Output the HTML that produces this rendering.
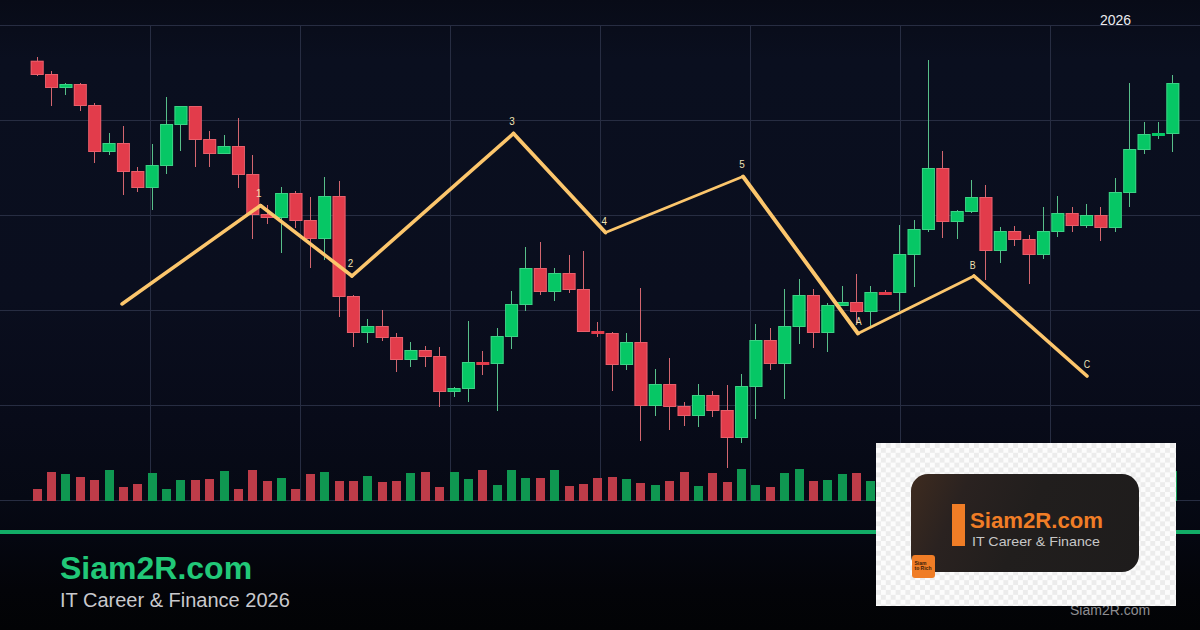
<!DOCTYPE html>
<html lang="en"><head><meta charset="utf-8"><title>Siam2R.com - IT Career &amp; Finance 2026</title>
<style>
html,body{margin:0;padding:0;background:#080b17;}
body{width:1200px;height:630px;overflow:hidden;position:relative;font-family:"Liberation Sans",Arial,sans-serif;}
#bg{position:absolute;left:0;top:0;width:1200px;height:630px;background:linear-gradient(180deg,#080b17 0px,#0a0f1f 60px,#0a0e1e 300px,#080b19 420px,#060914 500px,#050711 534px,#030408 590px,#020305 630px);}
svg{position:absolute;left:0;top:0}
#line{position:absolute;left:0;top:530px;width:1200px;height:4px;background:#12ac66}
#title{position:absolute;left:60px;top:549px;font-size:32px;line-height:38px;font-weight:bold;color:#21c878;white-space:nowrap}
#sub{position:absolute;left:60px;top:588px;font-size:20px;line-height:24px;color:#c9c9cd;white-space:nowrap}
#yr{position:absolute;left:1100px;top:12.3px;font-size:14px;line-height:16px;color:#ececf0}
#wm{position:absolute;left:1070px;top:602px;font-size:14px;line-height:16px;color:#8e8e92;white-space:nowrap}
#logo{position:absolute;left:876px;top:443px;width:300px;height:163px;background-color:#fcfcfc;
 background-image:conic-gradient(#fcfcfc 25%,#ececec 0 50%,#fcfcfc 0 75%,#ececec 0);background-size:9.8px 9.8px;}
#card{position:absolute;left:35.3px;top:31.4px;width:227.3px;height:97.6px;border-radius:17px;background:linear-gradient(115deg,#3e2b1f 0%,#2a2220 22%,#211e1d 50%,#1e1c1c 100%);}
#bar{position:absolute;left:40.5px;top:29.5px;width:13px;height:42px;background:#f07d26}
#lt{position:absolute;left:58.5px;top:34.8px;font-size:22.4px;line-height:24px;font-weight:bold;color:#f07d26;white-space:nowrap;transform:scaleX(0.99);transform-origin:0 0}
#ls{position:absolute;left:61px;top:59.2px;font-size:13px;line-height:16px;color:#c6c6c6;white-space:nowrap;transform:scaleX(1.095);transform-origin:0 0}
#sq{position:absolute;left:36px;top:112px;width:22.5px;height:22.5px;border-radius:3px;background:#f07d26;font-size:5px;line-height:5.4px;color:#3a1c08;font-weight:bold}
#sq span{position:absolute;left:2.5px;top:5.5px;white-space:nowrap}
</style></head><body>
<div id="bg"></div>
<svg width="1200" height="630" viewBox="0 0 1200 630" shape-rendering="crispEdges">
<g><rect x="0" y="25" width="1200" height="1" fill="#272d42"/><rect x="0" y="120" width="1200" height="1" fill="#272d42"/><rect x="0" y="215" width="1200" height="1" fill="#272d42"/><rect x="0" y="310" width="1200" height="1" fill="#272d42"/><rect x="0" y="405" width="1200" height="1" fill="#272d42"/><rect x="0" y="500" width="1200" height="1" fill="#272d42"/><rect x="150" y="25" width="1" height="475" fill="#272d42"/><rect x="300" y="25" width="1" height="475" fill="#272d42"/><rect x="450" y="25" width="1" height="475" fill="#272d42"/><rect x="600" y="25" width="1" height="475" fill="#272d42"/><rect x="750" y="25" width="1" height="475" fill="#272d42"/><rect x="900" y="25" width="1" height="475" fill="#272d42"/><rect x="1050" y="25" width="1" height="475" fill="#272d42"/></g>
<g><rect x="32.69" y="489" width="9" height="12" fill="#be3c49"/><rect x="47.06" y="472" width="9" height="29" fill="#be3c49"/><rect x="61.44" y="474" width="9" height="27" fill="#0f9751"/><rect x="75.81" y="477" width="9" height="24" fill="#be3c49"/><rect x="90.19" y="480" width="9" height="21" fill="#be3c49"/><rect x="104.56" y="470" width="9" height="31" fill="#0f9751"/><rect x="118.94" y="487" width="9" height="14" fill="#be3c49"/><rect x="133.31" y="484" width="9" height="17" fill="#be3c49"/><rect x="147.69" y="473" width="9" height="28" fill="#0f9751"/><rect x="162.06" y="489" width="9" height="12" fill="#0f9751"/><rect x="176.44" y="480" width="9" height="21" fill="#0f9751"/><rect x="190.81" y="480" width="9" height="21" fill="#be3c49"/><rect x="205.19" y="479" width="9" height="22" fill="#be3c49"/><rect x="219.56" y="471" width="9" height="30" fill="#0f9751"/><rect x="233.94" y="489" width="9" height="12" fill="#be3c49"/><rect x="248.31" y="470" width="9" height="31" fill="#be3c49"/><rect x="262.69" y="481" width="9" height="20" fill="#be3c49"/><rect x="277.06" y="478" width="9" height="23" fill="#0f9751"/><rect x="291.44" y="489" width="9" height="12" fill="#be3c49"/><rect x="305.81" y="474" width="9" height="27" fill="#be3c49"/><rect x="320.19" y="472" width="9" height="29" fill="#0f9751"/><rect x="334.56" y="481" width="9" height="20" fill="#be3c49"/><rect x="348.94" y="481" width="9" height="20" fill="#be3c49"/><rect x="363.31" y="476" width="9" height="25" fill="#0f9751"/><rect x="377.69" y="482" width="9" height="19" fill="#be3c49"/><rect x="392.06" y="481" width="9" height="20" fill="#be3c49"/><rect x="406.44" y="473" width="9" height="28" fill="#0f9751"/><rect x="420.81" y="472" width="9" height="29" fill="#be3c49"/><rect x="435.19" y="487" width="9" height="14" fill="#be3c49"/><rect x="449.56" y="472" width="9" height="29" fill="#0f9751"/><rect x="463.94" y="479" width="9" height="22" fill="#0f9751"/><rect x="478.31" y="470" width="9" height="31" fill="#be3c49"/><rect x="492.69" y="485" width="9" height="16" fill="#0f9751"/><rect x="507.06" y="470" width="9" height="31" fill="#0f9751"/><rect x="521.44" y="478" width="9" height="23" fill="#0f9751"/><rect x="535.82" y="478" width="9" height="23" fill="#be3c49"/><rect x="550.19" y="470" width="9" height="31" fill="#0f9751"/><rect x="564.57" y="486" width="9" height="15" fill="#be3c49"/><rect x="578.94" y="484" width="9" height="17" fill="#be3c49"/><rect x="593.32" y="478" width="9" height="23" fill="#be3c49"/><rect x="607.69" y="477" width="9" height="24" fill="#be3c49"/><rect x="622.07" y="479" width="9" height="22" fill="#0f9751"/><rect x="636.44" y="483" width="9" height="18" fill="#be3c49"/><rect x="650.82" y="485" width="9" height="16" fill="#0f9751"/><rect x="665.19" y="481" width="9" height="20" fill="#be3c49"/><rect x="679.57" y="472" width="9" height="29" fill="#be3c49"/><rect x="693.94" y="486" width="9" height="15" fill="#0f9751"/><rect x="708.32" y="473" width="9" height="28" fill="#be3c49"/><rect x="722.69" y="482" width="9" height="19" fill="#be3c49"/><rect x="737.07" y="469" width="9" height="32" fill="#0f9751"/><rect x="751.44" y="485" width="9" height="16" fill="#0f9751"/><rect x="765.82" y="487" width="9" height="14" fill="#be3c49"/><rect x="780.19" y="473" width="9" height="28" fill="#0f9751"/><rect x="794.57" y="469" width="9" height="32" fill="#0f9751"/><rect x="808.94" y="481" width="9" height="20" fill="#be3c49"/><rect x="823.32" y="480" width="9" height="21" fill="#0f9751"/><rect x="837.69" y="474" width="9" height="27" fill="#0f9751"/><rect x="852.07" y="473" width="9" height="28" fill="#be3c49"/><rect x="866.44" y="481" width="9" height="20" fill="#0f9751"/><rect x="880.82" y="474" width="9" height="27" fill="#be3c49"/><rect x="895.19" y="485" width="9" height="16" fill="#0f9751"/><rect x="909.57" y="485" width="9" height="16" fill="#0f9751"/><rect x="923.94" y="474" width="9" height="27" fill="#0f9751"/><rect x="938.32" y="478" width="9" height="23" fill="#be3c49"/><rect x="952.69" y="485" width="9" height="16" fill="#0f9751"/><rect x="967.07" y="481" width="9" height="20" fill="#0f9751"/><rect x="981.44" y="485" width="9" height="16" fill="#be3c49"/><rect x="995.82" y="470" width="9" height="31" fill="#0f9751"/><rect x="1010.19" y="485" width="9" height="16" fill="#be3c49"/><rect x="1024.57" y="470" width="9" height="31" fill="#be3c49"/><rect x="1038.94" y="481" width="9" height="20" fill="#0f9751"/><rect x="1053.32" y="478" width="9" height="23" fill="#0f9751"/><rect x="1067.69" y="485" width="9" height="16" fill="#be3c49"/><rect x="1082.07" y="474" width="9" height="27" fill="#0f9751"/><rect x="1096.44" y="474" width="9" height="27" fill="#be3c49"/><rect x="1110.82" y="481" width="9" height="20" fill="#0f9751"/><rect x="1125.19" y="485" width="9" height="16" fill="#0f9751"/><rect x="1139.57" y="485" width="9" height="16" fill="#0f9751"/><rect x="1153.94" y="481" width="9" height="20" fill="#0f9751"/><rect x="1168.32" y="471" width="9" height="30" fill="#0f9751"/></g>
<g><rect x="37" y="57" width="1" height="18.75" fill="#d3666f"/><rect x="51" y="71.25" width="1" height="34.75" fill="#d3666f"/><rect x="65" y="82.75" width="1" height="12.25" fill="#58bf8a"/><rect x="80" y="82.75" width="1" height="28" fill="#d3666f"/><rect x="94" y="103" width="1" height="60" fill="#d3666f"/><rect x="109" y="133" width="1" height="22" fill="#58bf8a"/><rect x="123" y="126" width="1" height="69" fill="#d3666f"/><rect x="137" y="167" width="1" height="25" fill="#d3666f"/><rect x="152" y="144" width="1" height="66" fill="#58bf8a"/><rect x="166" y="97" width="1" height="77" fill="#58bf8a"/><rect x="180" y="106" width="1" height="45" fill="#58bf8a"/><rect x="195" y="106" width="1" height="61" fill="#d3666f"/><rect x="209" y="131" width="1" height="36" fill="#d3666f"/><rect x="224" y="135" width="1" height="19" fill="#58bf8a"/><rect x="238" y="118" width="1" height="70" fill="#d3666f"/><rect x="252" y="155" width="1" height="84" fill="#d3666f"/><rect x="267" y="205" width="1" height="19" fill="#d3666f"/><rect x="281" y="187" width="1" height="66" fill="#58bf8a"/><rect x="295" y="191" width="1" height="37" fill="#d3666f"/><rect x="310" y="197" width="1" height="71" fill="#d3666f"/><rect x="324" y="177" width="1" height="83" fill="#58bf8a"/><rect x="339" y="181" width="1" height="136" fill="#d3666f"/><rect x="353" y="295" width="1" height="52" fill="#d3666f"/><rect x="367" y="319" width="1" height="24" fill="#58bf8a"/><rect x="382" y="310" width="1" height="31" fill="#d3666f"/><rect x="396" y="333" width="1" height="39" fill="#d3666f"/><rect x="410" y="342" width="1" height="25" fill="#58bf8a"/><rect x="425" y="346" width="1" height="21" fill="#d3666f"/><rect x="439" y="347" width="1" height="60" fill="#d3666f"/><rect x="454" y="387" width="1" height="10" fill="#58bf8a"/><rect x="468" y="321" width="1" height="81" fill="#58bf8a"/><rect x="482" y="351" width="1" height="24" fill="#d3666f"/><rect x="497" y="328" width="1" height="83" fill="#58bf8a"/><rect x="511" y="291" width="1" height="58" fill="#58bf8a"/><rect x="525" y="247" width="1" height="64" fill="#58bf8a"/><rect x="540" y="242" width="1" height="53" fill="#d3666f"/><rect x="554" y="268" width="1" height="33" fill="#58bf8a"/><rect x="569" y="255" width="1" height="38" fill="#d3666f"/><rect x="583" y="251" width="1" height="81" fill="#d3666f"/><rect x="597" y="322" width="1" height="15" fill="#d3666f"/><rect x="612" y="332" width="1" height="59" fill="#d3666f"/><rect x="626" y="333" width="1" height="37" fill="#58bf8a"/><rect x="640" y="288" width="1" height="153" fill="#d3666f"/><rect x="655" y="369" width="1" height="47" fill="#58bf8a"/><rect x="669" y="358" width="1" height="72" fill="#d3666f"/><rect x="684" y="402" width="1" height="24" fill="#d3666f"/><rect x="698" y="384" width="1" height="43" fill="#58bf8a"/><rect x="712" y="391" width="1" height="26" fill="#d3666f"/><rect x="727" y="385" width="1" height="83" fill="#d3666f"/><rect x="741" y="374" width="1" height="69" fill="#58bf8a"/><rect x="755" y="324" width="1" height="95" fill="#58bf8a"/><rect x="770" y="328" width="1" height="42" fill="#d3666f"/><rect x="784" y="289" width="1" height="110" fill="#58bf8a"/><rect x="799" y="279" width="1" height="65" fill="#58bf8a"/><rect x="813" y="289" width="1" height="59" fill="#d3666f"/><rect x="827" y="303" width="1" height="49" fill="#58bf8a"/><rect x="842" y="286" width="1" height="20" fill="#58bf8a"/><rect x="856" y="274" width="1" height="49" fill="#d3666f"/><rect x="870" y="286" width="1" height="40" fill="#58bf8a"/><rect x="885" y="290" width="1" height="5" fill="#d3666f"/><rect x="899" y="225" width="1" height="86" fill="#58bf8a"/><rect x="914" y="220" width="1" height="67" fill="#58bf8a"/><rect x="928" y="60" width="1" height="172" fill="#58bf8a"/><rect x="942" y="151" width="1" height="87" fill="#d3666f"/><rect x="957" y="210" width="1" height="29" fill="#58bf8a"/><rect x="971" y="180" width="1" height="33" fill="#58bf8a"/><rect x="985" y="185" width="1" height="95" fill="#d3666f"/><rect x="1000" y="227" width="1" height="36" fill="#58bf8a"/><rect x="1014" y="226" width="1" height="20" fill="#d3666f"/><rect x="1029" y="235" width="1" height="49" fill="#d3666f"/><rect x="1043" y="207" width="1" height="52" fill="#58bf8a"/><rect x="1057" y="196" width="1" height="41" fill="#58bf8a"/><rect x="1072" y="207" width="1" height="25" fill="#d3666f"/><rect x="1086" y="204" width="1" height="24" fill="#58bf8a"/><rect x="1100" y="207" width="1" height="34" fill="#d3666f"/><rect x="1115" y="178" width="1" height="54" fill="#58bf8a"/><rect x="1129" y="83" width="1" height="124" fill="#58bf8a"/><rect x="1144" y="122" width="1" height="32" fill="#58bf8a"/><rect x="1158" y="122" width="1" height="17" fill="#58bf8a"/><rect x="1172" y="75" width="1" height="77" fill="#58bf8a"/></g>
<g shape-rendering="auto"><rect x="30.69" y="60.75" width="13" height="14.25" fill="#e23c4b"/><rect x="31.19" y="61.25" width="12" height="13.25" fill="none" stroke="#f08a93" stroke-opacity="0.45"/><rect x="45.06" y="74" width="13" height="14" fill="#e23c4b"/><rect x="45.56" y="74.5" width="12" height="13" fill="none" stroke="#f08a93" stroke-opacity="0.45"/><rect x="59.44" y="84" width="13" height="4" fill="#06c765"/><rect x="59.94" y="84.5" width="12" height="3" fill="none" stroke="#7fe0ad" stroke-opacity="0.45"/><rect x="73.81" y="84" width="13" height="22" fill="#e23c4b"/><rect x="74.31" y="84.5" width="12" height="21" fill="none" stroke="#f08a93" stroke-opacity="0.45"/><rect x="88.19" y="105" width="13" height="47" fill="#e23c4b"/><rect x="88.69" y="105.5" width="12" height="46" fill="none" stroke="#f08a93" stroke-opacity="0.45"/><rect x="102.56" y="143" width="13" height="9" fill="#06c765"/><rect x="103.06" y="143.5" width="12" height="8" fill="none" stroke="#7fe0ad" stroke-opacity="0.45"/><rect x="116.94" y="143" width="13" height="29" fill="#e23c4b"/><rect x="117.44" y="143.5" width="12" height="28" fill="none" stroke="#f08a93" stroke-opacity="0.45"/><rect x="131.31" y="171" width="13" height="17" fill="#e23c4b"/><rect x="131.81" y="171.5" width="12" height="16" fill="none" stroke="#f08a93" stroke-opacity="0.45"/><rect x="145.69" y="165" width="13" height="23" fill="#06c765"/><rect x="146.19" y="165.5" width="12" height="22" fill="none" stroke="#7fe0ad" stroke-opacity="0.45"/><rect x="160.06" y="124" width="13" height="42" fill="#06c765"/><rect x="160.56" y="124.5" width="12" height="41" fill="none" stroke="#7fe0ad" stroke-opacity="0.45"/><rect x="174.44" y="106" width="13" height="19" fill="#06c765"/><rect x="174.94" y="106.5" width="12" height="18" fill="none" stroke="#7fe0ad" stroke-opacity="0.45"/><rect x="188.81" y="106" width="13" height="34" fill="#e23c4b"/><rect x="189.31" y="106.5" width="12" height="33" fill="none" stroke="#f08a93" stroke-opacity="0.45"/><rect x="203.19" y="139" width="13" height="15" fill="#e23c4b"/><rect x="203.69" y="139.5" width="12" height="14" fill="none" stroke="#f08a93" stroke-opacity="0.45"/><rect x="217.56" y="146" width="13" height="8" fill="#06c765"/><rect x="218.06" y="146.5" width="12" height="7" fill="none" stroke="#7fe0ad" stroke-opacity="0.45"/><rect x="231.94" y="146" width="13" height="29" fill="#e23c4b"/><rect x="232.44" y="146.5" width="12" height="28" fill="none" stroke="#f08a93" stroke-opacity="0.45"/><rect x="246.31" y="174" width="13" height="41" fill="#e23c4b"/><rect x="246.81" y="174.5" width="12" height="40" fill="none" stroke="#f08a93" stroke-opacity="0.45"/><rect x="260.69" y="214" width="13" height="4" fill="#e23c4b"/><rect x="261.19" y="214.5" width="12" height="3" fill="none" stroke="#f08a93" stroke-opacity="0.45"/><rect x="275.06" y="193" width="13" height="25" fill="#06c765"/><rect x="275.56" y="193.5" width="12" height="24" fill="none" stroke="#7fe0ad" stroke-opacity="0.45"/><rect x="289.44" y="193" width="13" height="28" fill="#e23c4b"/><rect x="289.94" y="193.5" width="12" height="27" fill="none" stroke="#f08a93" stroke-opacity="0.45"/><rect x="303.81" y="220" width="13" height="19" fill="#e23c4b"/><rect x="304.31" y="220.5" width="12" height="18" fill="none" stroke="#f08a93" stroke-opacity="0.45"/><rect x="318.19" y="196" width="13" height="43" fill="#06c765"/><rect x="318.69" y="196.5" width="12" height="42" fill="none" stroke="#7fe0ad" stroke-opacity="0.45"/><rect x="332.56" y="196" width="13" height="101" fill="#e23c4b"/><rect x="333.06" y="196.5" width="12" height="100" fill="none" stroke="#f08a93" stroke-opacity="0.45"/><rect x="346.94" y="296" width="13" height="37" fill="#e23c4b"/><rect x="347.44" y="296.5" width="12" height="36" fill="none" stroke="#f08a93" stroke-opacity="0.45"/><rect x="361.31" y="326" width="13" height="7" fill="#06c765"/><rect x="361.81" y="326.5" width="12" height="6" fill="none" stroke="#7fe0ad" stroke-opacity="0.45"/><rect x="375.69" y="326" width="13" height="12" fill="#e23c4b"/><rect x="376.19" y="326.5" width="12" height="11" fill="none" stroke="#f08a93" stroke-opacity="0.45"/><rect x="390.06" y="337" width="13" height="23" fill="#e23c4b"/><rect x="390.56" y="337.5" width="12" height="22" fill="none" stroke="#f08a93" stroke-opacity="0.45"/><rect x="404.44" y="350" width="13" height="10" fill="#06c765"/><rect x="404.94" y="350.5" width="12" height="9" fill="none" stroke="#7fe0ad" stroke-opacity="0.45"/><rect x="418.81" y="350" width="13" height="7" fill="#e23c4b"/><rect x="419.31" y="350.5" width="12" height="6" fill="none" stroke="#f08a93" stroke-opacity="0.45"/><rect x="433.19" y="356" width="13" height="36" fill="#e23c4b"/><rect x="433.69" y="356.5" width="12" height="35" fill="none" stroke="#f08a93" stroke-opacity="0.45"/><rect x="447.56" y="388" width="13" height="4" fill="#06c765"/><rect x="448.06" y="388.5" width="12" height="3" fill="none" stroke="#7fe0ad" stroke-opacity="0.45"/><rect x="461.94" y="362" width="13" height="27" fill="#06c765"/><rect x="462.44" y="362.5" width="12" height="26" fill="none" stroke="#7fe0ad" stroke-opacity="0.45"/><rect x="476.31" y="362" width="13" height="3" fill="#e23c4b"/><rect x="490.69" y="336" width="13" height="28" fill="#06c765"/><rect x="491.19" y="336.5" width="12" height="27" fill="none" stroke="#7fe0ad" stroke-opacity="0.45"/><rect x="505.06" y="304" width="13" height="33" fill="#06c765"/><rect x="505.56" y="304.5" width="12" height="32" fill="none" stroke="#7fe0ad" stroke-opacity="0.45"/><rect x="519.44" y="268" width="13" height="37" fill="#06c765"/><rect x="519.94" y="268.5" width="12" height="36" fill="none" stroke="#7fe0ad" stroke-opacity="0.45"/><rect x="533.82" y="268" width="13" height="24" fill="#e23c4b"/><rect x="534.32" y="268.5" width="12" height="23" fill="none" stroke="#f08a93" stroke-opacity="0.45"/><rect x="548.19" y="273" width="13" height="19" fill="#06c765"/><rect x="548.69" y="273.5" width="12" height="18" fill="none" stroke="#7fe0ad" stroke-opacity="0.45"/><rect x="562.57" y="273" width="13" height="17" fill="#e23c4b"/><rect x="563.07" y="273.5" width="12" height="16" fill="none" stroke="#f08a93" stroke-opacity="0.45"/><rect x="576.94" y="289" width="13" height="43" fill="#e23c4b"/><rect x="577.44" y="289.5" width="12" height="42" fill="none" stroke="#f08a93" stroke-opacity="0.45"/><rect x="591.32" y="331" width="13" height="3" fill="#e23c4b"/><rect x="605.69" y="333" width="13" height="32" fill="#e23c4b"/><rect x="606.19" y="333.5" width="12" height="31" fill="none" stroke="#f08a93" stroke-opacity="0.45"/><rect x="620.07" y="342" width="13" height="23" fill="#06c765"/><rect x="620.57" y="342.5" width="12" height="22" fill="none" stroke="#7fe0ad" stroke-opacity="0.45"/><rect x="634.44" y="342" width="13" height="64" fill="#e23c4b"/><rect x="634.94" y="342.5" width="12" height="63" fill="none" stroke="#f08a93" stroke-opacity="0.45"/><rect x="648.82" y="384" width="13" height="22" fill="#06c765"/><rect x="649.32" y="384.5" width="12" height="21" fill="none" stroke="#7fe0ad" stroke-opacity="0.45"/><rect x="663.19" y="384" width="13" height="23" fill="#e23c4b"/><rect x="663.69" y="384.5" width="12" height="22" fill="none" stroke="#f08a93" stroke-opacity="0.45"/><rect x="677.57" y="406" width="13" height="10" fill="#e23c4b"/><rect x="678.07" y="406.5" width="12" height="9" fill="none" stroke="#f08a93" stroke-opacity="0.45"/><rect x="691.94" y="395" width="13" height="21" fill="#06c765"/><rect x="692.44" y="395.5" width="12" height="20" fill="none" stroke="#7fe0ad" stroke-opacity="0.45"/><rect x="706.32" y="395" width="13" height="16" fill="#e23c4b"/><rect x="706.82" y="395.5" width="12" height="15" fill="none" stroke="#f08a93" stroke-opacity="0.45"/><rect x="720.69" y="410" width="13" height="28" fill="#e23c4b"/><rect x="721.19" y="410.5" width="12" height="27" fill="none" stroke="#f08a93" stroke-opacity="0.45"/><rect x="735.07" y="386" width="13" height="52" fill="#06c765"/><rect x="735.57" y="386.5" width="12" height="51" fill="none" stroke="#7fe0ad" stroke-opacity="0.45"/><rect x="749.44" y="340" width="13" height="47" fill="#06c765"/><rect x="749.94" y="340.5" width="12" height="46" fill="none" stroke="#7fe0ad" stroke-opacity="0.45"/><rect x="763.82" y="340" width="13" height="24" fill="#e23c4b"/><rect x="764.32" y="340.5" width="12" height="23" fill="none" stroke="#f08a93" stroke-opacity="0.45"/><rect x="778.19" y="326" width="13" height="38" fill="#06c765"/><rect x="778.69" y="326.5" width="12" height="37" fill="none" stroke="#7fe0ad" stroke-opacity="0.45"/><rect x="792.57" y="295" width="13" height="32" fill="#06c765"/><rect x="793.07" y="295.5" width="12" height="31" fill="none" stroke="#7fe0ad" stroke-opacity="0.45"/><rect x="806.94" y="295" width="13" height="38" fill="#e23c4b"/><rect x="807.44" y="295.5" width="12" height="37" fill="none" stroke="#f08a93" stroke-opacity="0.45"/><rect x="821.32" y="305" width="13" height="28" fill="#06c765"/><rect x="821.82" y="305.5" width="12" height="27" fill="none" stroke="#7fe0ad" stroke-opacity="0.45"/><rect x="835.69" y="302" width="13" height="4" fill="#06c765"/><rect x="836.19" y="302.5" width="12" height="3" fill="none" stroke="#7fe0ad" stroke-opacity="0.45"/><rect x="850.07" y="302" width="13" height="10" fill="#e23c4b"/><rect x="850.57" y="302.5" width="12" height="9" fill="none" stroke="#f08a93" stroke-opacity="0.45"/><rect x="864.44" y="292" width="13" height="20" fill="#06c765"/><rect x="864.94" y="292.5" width="12" height="19" fill="none" stroke="#7fe0ad" stroke-opacity="0.45"/><rect x="878.82" y="292" width="13" height="3" fill="#e23c4b"/><rect x="893.19" y="254" width="13" height="39" fill="#06c765"/><rect x="893.69" y="254.5" width="12" height="38" fill="none" stroke="#7fe0ad" stroke-opacity="0.45"/><rect x="907.57" y="229" width="13" height="26" fill="#06c765"/><rect x="908.07" y="229.5" width="12" height="25" fill="none" stroke="#7fe0ad" stroke-opacity="0.45"/><rect x="921.94" y="168" width="13" height="62" fill="#06c765"/><rect x="922.44" y="168.5" width="12" height="61" fill="none" stroke="#7fe0ad" stroke-opacity="0.45"/><rect x="936.32" y="168" width="13" height="54" fill="#e23c4b"/><rect x="936.82" y="168.5" width="12" height="53" fill="none" stroke="#f08a93" stroke-opacity="0.45"/><rect x="950.69" y="211" width="13" height="11" fill="#06c765"/><rect x="951.19" y="211.5" width="12" height="10" fill="none" stroke="#7fe0ad" stroke-opacity="0.45"/><rect x="965.07" y="197" width="13" height="15" fill="#06c765"/><rect x="965.57" y="197.5" width="12" height="14" fill="none" stroke="#7fe0ad" stroke-opacity="0.45"/><rect x="979.44" y="197" width="13" height="54" fill="#e23c4b"/><rect x="979.94" y="197.5" width="12" height="53" fill="none" stroke="#f08a93" stroke-opacity="0.45"/><rect x="993.82" y="231" width="13" height="20" fill="#06c765"/><rect x="994.32" y="231.5" width="12" height="19" fill="none" stroke="#7fe0ad" stroke-opacity="0.45"/><rect x="1008.19" y="231" width="13" height="9" fill="#e23c4b"/><rect x="1008.69" y="231.5" width="12" height="8" fill="none" stroke="#f08a93" stroke-opacity="0.45"/><rect x="1022.57" y="239" width="13" height="16" fill="#e23c4b"/><rect x="1023.07" y="239.5" width="12" height="15" fill="none" stroke="#f08a93" stroke-opacity="0.45"/><rect x="1036.94" y="231" width="13" height="24" fill="#06c765"/><rect x="1037.44" y="231.5" width="12" height="23" fill="none" stroke="#7fe0ad" stroke-opacity="0.45"/><rect x="1051.32" y="213" width="13" height="19" fill="#06c765"/><rect x="1051.82" y="213.5" width="12" height="18" fill="none" stroke="#7fe0ad" stroke-opacity="0.45"/><rect x="1065.69" y="213" width="13" height="13" fill="#e23c4b"/><rect x="1066.19" y="213.5" width="12" height="12" fill="none" stroke="#f08a93" stroke-opacity="0.45"/><rect x="1080.07" y="215" width="13" height="11" fill="#06c765"/><rect x="1080.57" y="215.5" width="12" height="10" fill="none" stroke="#7fe0ad" stroke-opacity="0.45"/><rect x="1094.44" y="215" width="13" height="13" fill="#e23c4b"/><rect x="1094.94" y="215.5" width="12" height="12" fill="none" stroke="#f08a93" stroke-opacity="0.45"/><rect x="1108.82" y="192" width="13" height="36" fill="#06c765"/><rect x="1109.32" y="192.5" width="12" height="35" fill="none" stroke="#7fe0ad" stroke-opacity="0.45"/><rect x="1123.19" y="149" width="13" height="44" fill="#06c765"/><rect x="1123.69" y="149.5" width="12" height="43" fill="none" stroke="#7fe0ad" stroke-opacity="0.45"/><rect x="1137.57" y="134" width="13" height="16" fill="#06c765"/><rect x="1138.07" y="134.5" width="12" height="15" fill="none" stroke="#7fe0ad" stroke-opacity="0.45"/><rect x="1151.94" y="133" width="13" height="3" fill="#06c765"/><rect x="1166.32" y="83" width="13" height="51" fill="#06c765"/><rect x="1166.82" y="83.5" width="12" height="50" fill="none" stroke="#7fe0ad" stroke-opacity="0.45"/></g>
<g fill="none" stroke="#fcc66c" stroke-linecap="round" shape-rendering="geometricPrecision"><line x1="122" y1="304" x2="260.5" y2="205.5" stroke-width="3.5"/><line x1="260.5" y1="205.5" x2="352" y2="276" stroke-width="3.5"/><line x1="352" y1="276" x2="513.5" y2="133.5" stroke-width="3.6"/><line x1="513.5" y1="133.5" x2="605.5" y2="232.5" stroke-width="3.8"/><line x1="605.5" y1="232.5" x2="743" y2="176.5" stroke-width="2.7"/><line x1="743" y1="176.5" x2="858" y2="333.5" stroke-width="3.9"/><line x1="858" y1="333.5" x2="974" y2="276" stroke-width="2.9"/><line x1="974" y1="276" x2="1087" y2="376" stroke-width="3.6"/></g>
<g font-family="Liberation Sans, Arial, sans-serif" font-size="11" fill="#efe2b4" shape-rendering="geometricPrecision"><text transform="translate(255.9,196.9) scale(0.9,1)">1</text><text transform="translate(347.7,267.4) scale(0.9,1)">2</text><text transform="translate(509.2,124.9) scale(0.9,1)">3</text><text transform="translate(601.4,224.9) scale(0.9,1)">4</text><text transform="translate(739.2,167.9) scale(0.9,1)">5</text><text transform="translate(855.7,324.9) scale(0.8,1)">A</text><text transform="translate(969.7,268.6) scale(0.8,1)">B</text><text transform="translate(1083.8,368.4) scale(0.8,1)">C</text></g>
</svg>
<div id="line"></div>
<div id="title">Siam2R.com</div>
<div id="sub">IT Career &amp; Finance 2026</div>
<div id="yr">2026</div>
<div id="wm">Siam2R.com</div>
<div id="logo"><div id="card"><div id="bar"></div><div id="lt">Siam2R.com</div><div id="ls">IT Career &amp; Finance</div></div>
<div id="sq"><span>Siam<br>to Rich</span></div></div>
</body></html>
